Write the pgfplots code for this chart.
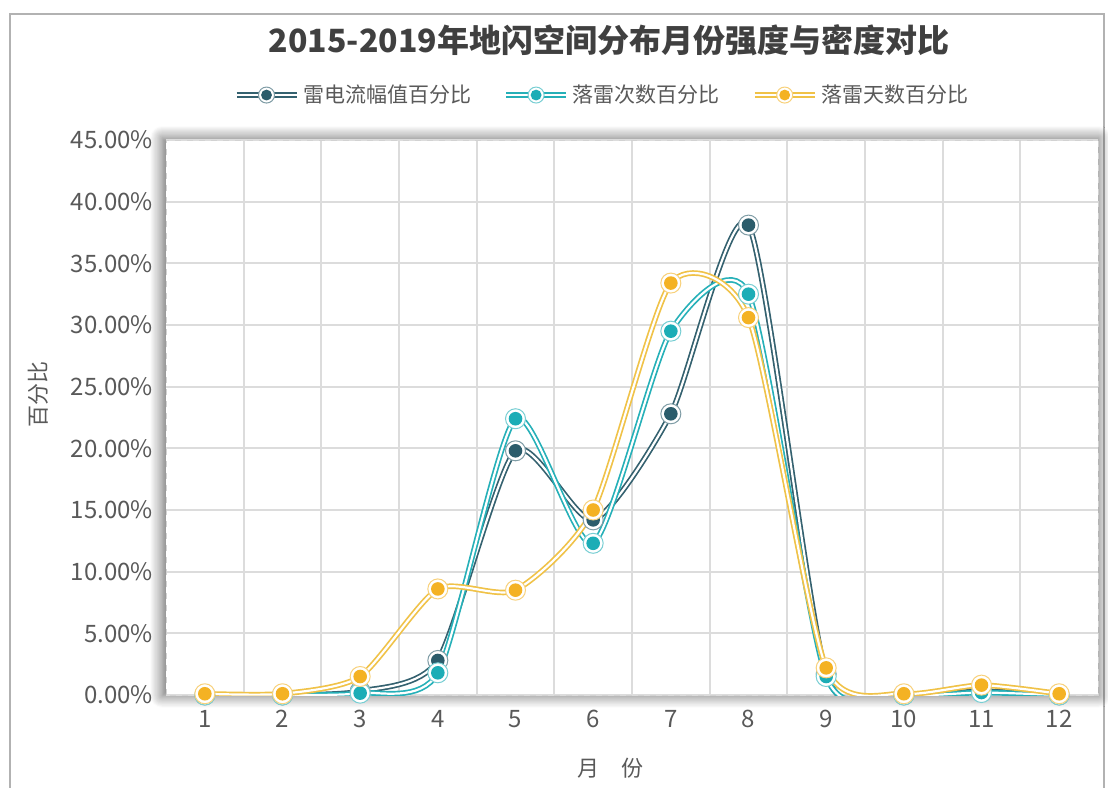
\documentclass[border=0pt]{standalone}
\usepackage{fontspec}
\setmainfont{Noto Sans CJK SC}
\usepackage{pgfplots}
\pgfplotsset{compat=1.18}
\usetikzlibrary{shadows.blur}
\definecolor{cDark}{HTML}{2B5C6B}
\definecolor{cTeal}{HTML}{1CADB6}
\definecolor{cGold}{HTML}{F4B223}
\definecolor{cDarkL}{HTML}{34616F}
\definecolor{cTealL}{HTML}{25B0B8}
\definecolor{cGoldL}{HTML}{F0C247}
\definecolor{txt}{HTML}{595959}
\definecolor{grd}{HTML}{DCDCDC}
\newcommand\defring[1]{%
  \pgfdeclareplotmark{ring#1}{%
    \pgfpathcircle{\pgfpointorigin}{\pgfplotmarksize}%
    \pgfsetfillcolor{white}\pgfsetstrokecolor{#1!60}\pgfsetlinewidth{0.5pt}%
    \pgfusepath{fill,stroke}%
    \pgfpathcircle{\pgfpointorigin}{0.68\pgfplotmarksize}%
    \pgfsetfillcolor{#1}%
    \pgfusepath{fill}%
  }}
\defring{cDark}\defring{cTeal}\defring{cGold}
\pgfplotsset{
  ser/.style 2 args={color=#2, smooth, tension=0.4, line width=0.85pt, double=white,
    double distance=1.1pt, mark=ring#1, mark size=5pt},
}
\begin{document}
\begin{tikzpicture}
\path[use as bounding box] (0,0) rectangle (554pt,393.5pt);
\draw[gray!60, line width=1pt] (5pt,-2pt) -- (5pt,386.5pt) -- (552pt,386.5pt) -- (552pt,-2pt);
\begin{axis}[
  at={(83pt,46pt)}, anchor=south west, scale only axis,
  width=466pt, height=277.5pt,
  xmin=0.5, xmax=12.5, ymin=0, ymax=45,
  xtick={1,...,12}, minor xtick={1.5,2.5,3.5,4.5,5.5,6.5,7.5,8.5,9.5,10.5,11.5},
  ytick={0,5,...,45},
  xminorgrids=true, ymajorgrids=true,
  grid style={grd, line width=1pt},
  minor grid style={grd, line width=1pt},
  major tick length=0pt, minor tick length=0pt,
  axis line style={draw=gray!35, dashed},
  /pgf/number format/assume math mode=true,
  yticklabel={\pgfmathprintnumber[fixed,fixed zerofill,precision=2]{\tick}\%},
  ticklabel style={font=\fontsize{12}{14}\selectfont, text=txt},
  xticklabel style={yshift=-4pt},
  yticklabel style={xshift=-3pt},
  axis background/.style={fill=white, blur shadow={shadow xshift=-0.8pt, shadow yshift=0.3pt, shadow blur radius=6pt, shadow blur steps=12, shadow opacity=60, shadow scale=1.005}},
  legend columns=3,
  legend style={at={(0.469,1.081)}, anchor=center, draw=none, fill=none,
    font=\fontsize{10.5}{12}\selectfont, text=txt,
    /tikz/every even column/.append style={column sep=14pt}},
  legend image code/.code={\draw[#1, mark repeat=2, mark phase=2, mark size=4pt] plot coordinates {(0pt,0pt) (15pt,0pt) (30pt,0pt)};},
]
\addplot[ser={cDark}{cDarkL}] coordinates {(1,0)(2,0)(3,0.3)(4,2.8)(5,19.8)(6,14.2)(7,22.8)(8,38.1)(9,1.7)(10,0)(11,0.3)(12,0)};
\addlegendentry{雷电流幅值百分比}
\addplot[ser={cTeal}{cTealL}] coordinates {(1,0)(2,0)(3,0.15)(4,1.8)(5,22.4)(6,12.3)(7,29.5)(8,32.5)(9,1.5)(10,0)(11,0.2)(12,0)};
\addlegendentry{落雷次数百分比}
\addplot[ser={cGold}{cGoldL}] coordinates {(1,0.1)(2,0.1)(3,1.5)(4,8.6)(5,8.5)(6,15.0)(7,33.4)(8,30.6)(9,2.2)(10,0.1)(11,0.8)(12,0.1)};
\addlegendentry{落雷天数百分比}
\end{axis}
\node[font=\fontsize{16}{19}\selectfont\bfseries, text=black!75] at (304.5pt,373.5pt) {2015-2019年地闪空间分布月份强度与密度对比};
\node[font=\fontsize{11}{13}\selectfont, text=txt, rotate=90] at (19pt,196pt) {百分比};
\node[font=\fontsize{11}{13}\selectfont, text=txt] at (305pt,9.5pt) {月\hspace{1em}份};
\end{tikzpicture}
\end{document}
